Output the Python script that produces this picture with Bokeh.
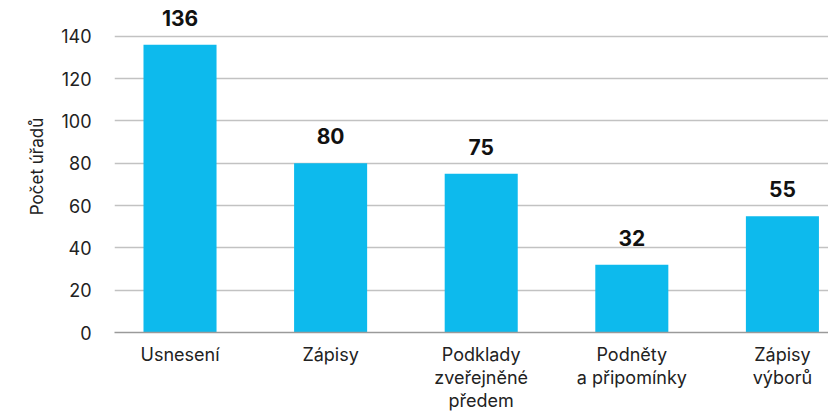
from bokeh.plotting import figure
from bokeh.models import Range1d, FixedTicker, ColumnDataSource
from bokeh.core.properties import value
from bokeh.embed import file_html
from bokeh.resources import INLINE

categories = ["Usnesení", "Zápisy", "Podklady\nzveřejněné\npředem", "Podněty\na připomínky", "Zápisy\nvýborů"]
counts = [136, 80, 75, 32, 55]
y_ticks = [0, 20, 40, 60, 80, 100, 120, 140]

FONT = "Inter"
BAR = "#0dbaed"

xs = list(range(len(categories)))
src = ColumnDataSource(dict(x=xs, y=counts, lab=[str(v) for v in counts]))

p = figure(width=828, height=413, output_backend="svg", toolbar_location=None,
           x_range=Range1d(-0.435, 4.306), y_range=Range1d(0, 156.97),
           min_border_left=114, min_border_right=0, min_border_top=0, min_border_bottom=80)
p.outline_line_color = None

p.vbar(x="x", top="y", width=0.485, source=src, color=BAR, line_color=None)
p.text(x="x", y="y", text="lab", source=src, text_align="center", text_baseline="alphabetic",
       y_offset=-27, text_font=value(FONT), text_font_style="bold", text_font_size="21px",
       text_color="#111111")

p.xgrid.grid_line_color = None
p.ygrid.grid_line_color = "#c2c2c2"
p.ygrid.grid_line_width = 1.5
p.ygrid.ticker = FixedTicker(ticks=y_ticks)

ya = p.yaxis[0]
ya.ticker = FixedTicker(ticks=y_ticks)
ya.axis_line_color = None
ya.major_tick_line_color = None
ya.minor_tick_line_color = None
ya.major_label_text_font = FONT
ya.major_label_text_font_size = "18px"
ya.major_label_text_color = "#222222"
ya.major_label_standoff = 17
ya.axis_label = "Počet úřadů"
ya.axis_label_text_font = FONT
ya.axis_label_text_font_size = "17px"
ya.axis_label_text_font_style = "normal"
ya.axis_label_text_color = "#222222"
ya.axis_label_standoff = 11

xa = p.xaxis[0]
xa.ticker = FixedTicker(ticks=xs)
xa.major_label_overrides = {i: c for i, c in zip(xs, categories)}
xa.axis_line_color = "#9a9a9a"
xa.axis_line_width = 1.5
xa.major_tick_line_color = None
xa.minor_tick_line_color = None
xa.major_label_text_font = FONT
xa.major_label_text_font_size = "18px"
xa.major_label_text_color = "#222222"
xa.major_label_standoff = 5
xa.major_label_text_line_height = 1.1

open("out.html", "w").write(file_html(p, INLINE))
